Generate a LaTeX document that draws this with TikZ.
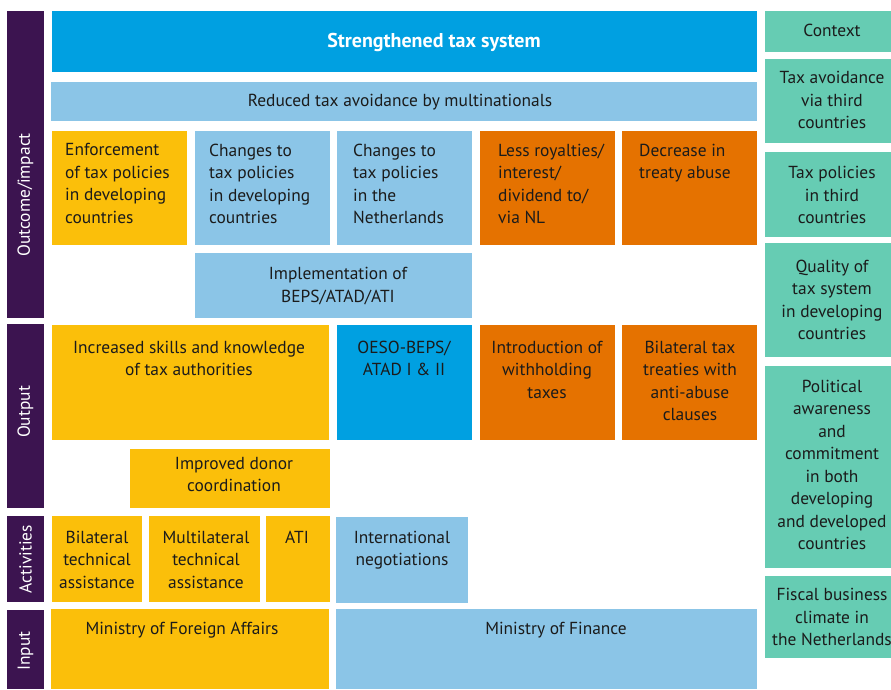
\documentclass[tikz,border=0pt]{standalone}
\usepackage{fontspec}
\setmainfont{PT Sans}
\usetikzlibrary{fit}
\definecolor{cpurple}{HTML}{3C1450}
\definecolor{cblue}{HTML}{00A0E1}
\definecolor{clight}{HTML}{8BC5E7}
\definecolor{cyellow}{HTML}{FBBF0A}
\definecolor{corange}{HTML}{E57200}
\definecolor{cteal}{HTML}{66CCB3}
\definecolor{ctext}{HTML}{1B1B1B}
\tikzset{
  box/.style={draw=none, inner sep=0pt, outer sep=0pt},
  txt/.style={text=ctext, inner sep=0pt, font=\fontsize{17.4}{22.5}\selectfont},
  ltxt/.style={txt, align=left, anchor=north west},
  ctxt/.style={txt, align=center, anchor=north},
  mtxt/.style={txt, align=center, anchor=center},
  side/.style={text=white, inner sep=0pt, rotate=90, font=\fontsize{17.4}{20}\selectfont},
}
\begin{document}
\begin{tikzpicture}[x=1pt,y=-1pt]
\useasboundingbox[fill=white] (0,0) rectangle (891,690);
% level bars
\node[box, fill=cpurple, fit={(7,11) (44,318)}] (bOut) {};
\node[box, fill=cpurple, fit={(7,324) (44,508)}] (bOutp) {};
\node[box, fill=cpurple, fit={(7,516) (44,602)}] (bAct) {};
\node[box, fill=cpurple, fit={(7,610) (44,689)}] (bIn) {};
\node[side] (lOut) at (25.5,195) {Outcome/impact};
\node[side] (lOutp) at (25.5,412) {Output};
\node[side] (lAct) at (25.5,559) {Activities};
\node[side] (lIn) at (25.5,651) {Input};
% top
\node[box, fill=cblue, fit={(52,11) (757,72)}] (top) {};
\node[text=white, inner sep=0pt, font=\fontsize{20}{24}\selectfont\bfseries] (topt) at (434,42) {Strengthened tax system};
\node[box, fill=clight, fit={(51,82) (757,121)}] (red) {};
\node[mtxt] (redt) at (400,102.5) {Reduced tax avoidance by multinationals};
% row 3
\node[box, fill=cyellow, fit={(52,131) (187,245)}] (enf) {};
\node[ltxt] (enft) at (65,143.5) {Enforcement\\of tax policies\\in developing\\countries};
\node[box, fill=clight, fit={(195,131) (330,245)}] (chd) {};
\node[ltxt] (chdt) at (209,143.5) {Changes to\\tax policies\\in developing\\countries};
\node[box, fill=clight, fit={(337,131) (472,245)}] (chn) {};
\node[ltxt] (chnt) at (353,143.5) {Changes to\\tax policies\\in the\\Netherlands};
\node[box, fill=corange, fit={(480,131) (615,245)}] (les) {};
\node[ltxt] (lest) at (498,143.5) {Less royalties/\\interest/\\dividend to/\\via NL};
\node[box, fill=corange, fit={(622,131) (757,245)}] (dec) {};
\node[ltxt] (dect) at (639,143.5) {Decrease in\\treaty abuse};
\node[box, fill=clight, fit={(195,253) (472,318)}] (imp) {};
\node[ctxt] (impt) at (338,267) {Implementation of\\BEPS/ATAD/ATI};
% output
\node[box, fill=cyellow, fit={(52,325) (329,440)}] (inc) {};
\node[ctxt] (inct) at (189,340.5) {Increased skills and knowledge\\of tax authorities};
\node[box, fill=cblue, fit={(337,325) (472,440)}] (oeso) {};
\node[ctxt] (oesot) at (404,340.5) {OESO-BEPS/\\ATAD I \& II};
\node[box, fill=corange, fit={(480,325) (615,440)}] (intro) {};
\node[ctxt] (introt) at (547,340.5) {Introduction of\\withholding\\taxes};
\node[box, fill=corange, fit={(622,325) (757,440)}] (bil) {};
\node[ctxt] (bilt) at (690,340.5) {Bilateral tax\\treaties with\\anti-abuse\\clauses};
\node[box, fill=cyellow, fit={(130,449) (330,508)}] (don) {};
\node[ctxt] (dont) at (234,457) {Improved donor\\coordination};
% activities
\node[box, fill=cyellow, fit={(52,516) (142,602)}] (bta) {};
\node[ctxt] (btat) at (97,530.5) {Bilateral\\technical\\assistance};
\node[box, fill=cyellow, fit={(149,516) (260,602)}] (mta) {};
\node[ctxt] (mtat) at (206,530.5) {Multilateral\\technical\\assistance};
\node[box, fill=cyellow, fit={(266,516) (330,602)}] (ati) {};
\node[ctxt] (atit) at (297,530.5) {ATI};
\node[box, fill=clight, fit={(336,517) (468,603)}] (neg) {};
\node[ctxt] (negt) at (402,530.5) {International\\negotiations};
% input
\node[box, fill=cyellow, fit={(51,609) (329,689)}] (mfa) {};
\node[ctxt] (mfat) at (182,622) {Ministry of Foreign Affairs};
\node[box, fill=clight, fit={(336,609) (757,689)}] (mof) {};
\node[ctxt] (moft) at (556,622) {Ministry of Finance};
% context column
\node[box, fill=cteal, fit={(765,11) (900,52)}] (ctx) {};
\node[mtxt] (ctxt) at (832,30) {Context};
\node[box, fill=cteal, fit={(765,59) (900,143)}] (c1) {};
\node[mtxt] (c1t) at (832,100) {Tax avoidance\\via third\\countries};
\node[box, fill=cteal, fit={(765,152) (900,237)}] (c2) {};
\node[mtxt] (c2t) at (832,195) {Tax policies\\in third\\countries};
\node[box, fill=cteal, fit={(765,243) (900,357)}] (c3) {};
\node[mtxt] (c3t) at (832,300) {Quality of\\tax system\\in developing\\countries};
\node[box, fill=cteal, fit={(765,366) (900,568)}] (c4) {};
\node[mtxt] (c4t) at (832,465) {Political\\awareness\\and\\commitment\\in both\\developing\\and developed\\countries};
\node[box, fill=cteal, fit={(765,576) (900,658)}] (c5) {};
\node[mtxt] (c5t) at (832,617) {Fiscal business\\climate in\\the Netherlands};
\end{tikzpicture}
\end{document}
